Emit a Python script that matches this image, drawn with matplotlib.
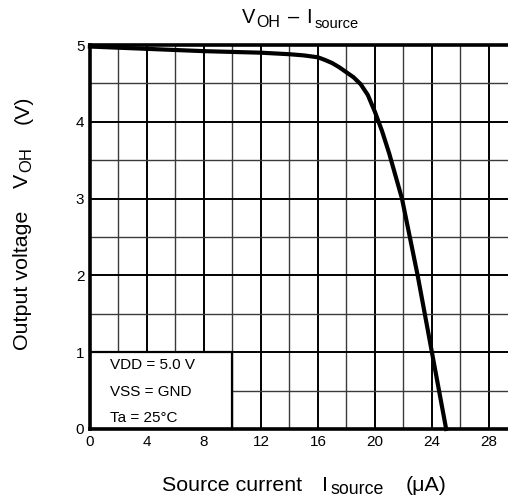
import matplotlib
matplotlib.use("Agg")
import matplotlib.pyplot as plt
from matplotlib.patches import Rectangle
from matplotlib.ticker import MultipleLocator
import numpy as np

plt.rcParams['font.family'] = ['Liberation Sans', 'DejaVu Sans']

# V_OH vs I_source curve (uA, V)
i_source = [0, 4, 8, 12, 14, 15, 16, 16.5, 17, 17.5, 18, 18.5, 19, 19.5, 20, 20.5, 21,
            21.9, 23.0, 24.0, 25.0]
v_oh = [4.98, 4.95, 4.92, 4.90, 4.88, 4.865, 4.84, 4.805, 4.765, 4.71, 4.645, 4.58, 4.49,
        4.35, 4.13, 3.88, 3.59, 3.0, 2.0, 1.0, 0.0]

x_ticks = [0, 4, 8, 12, 16, 20, 24, 28]
y_ticks = [0, 1, 2, 3, 4, 5]
conditions = ["VDD = 5.0 V", "VSS = GND", "Ta = 25°C"]
cond_y = [0.83, 0.48, 0.14]

fig = plt.figure(figsize=(5.08, 4.99), dpi=100)
ax = fig.add_axes([0.177, 0.1403, 0.8415, 0.7695])
ax.set_xlim(0, 30)
ax.set_ylim(0, 5)

ax.xaxis.set_minor_locator(MultipleLocator(2))
ax.yaxis.set_minor_locator(MultipleLocator(0.5))
ax.set_xticks(x_ticks)
ax.set_yticks(y_ticks)
ax.grid(which='major', color='black', linewidth=1.4)
ax.grid(which='minor', color='#3a3a3a', linewidth=1.0)
ax.set_axisbelow(True)
ax.tick_params(which='both', length=0, labelsize=11, pad=4)

for side in ('left', 'bottom', 'top'):
    ax.spines[side].set_linewidth(2.6)
ax.spines['right'].set_visible(False)

# condition box in the lower left corner
ax.add_patch(Rectangle((0, 0), 10, 1, facecolor='white', edgecolor='black',
                       linewidth=1.6, zorder=2))
for txt, yy in zip(conditions, cond_y):
    ax.text(1.4, yy, txt, fontsize=11, va='center', ha='left', zorder=3)

ax.plot(i_source, v_oh, color='black', linewidth=3, zorder=4, clip_on=False)


def rich_text(parts, x, y, rotation=0):
    """Draw text pieces one after another from (x, y) in pixels.
    parts: (text, fontsize, drop_px, gap_px)"""
    renderer = fig.canvas.get_renderer()
    th = np.radians(rotation)
    along = np.array([np.cos(th), np.sin(th)])
    down = np.array([np.sin(th), -np.cos(th)])
    pos = 0.0
    for s, size, drop, gap in parts:
        pos += gap
        p = np.array([x, y]) + along * pos + down * drop
        fig.text(p[0], p[1], s, fontsize=size, ha='left', va='baseline',
                 rotation=rotation, rotation_mode='anchor', transform=None)
        w = fig.text(0, 0, s, fontsize=size).get_window_extent(renderer)
        fig.texts[-1].remove()
        pos += w.width


H = 499
rich_text([("V", 14.4, 0, 0), ("OH", 11.5, 4.5, 1.5), ("–", 14.4, 0, 8),
           ("I", 14.4, 0, 6.5), ("source", 10.5, 5, 3)], 241.7, H - 22.7)
rich_text([("Source current", 15.4, 0, 0), ("I", 15.4, 0, 20),
           ("source", 12.8, 3, 3), ("(μA)", 15.4, 0, 21)], 161.7, H - 490.7)
rich_text([("Output voltage", 15.4, 0, 0), ("V", 15.4, 0, 23),
           ("OH", 12.0, 2.5, 1.5), ("(V)", 15.4, 0, 23)], 28.3, H - 350, rotation=90)

fig.savefig("out.png", dpi=100)
